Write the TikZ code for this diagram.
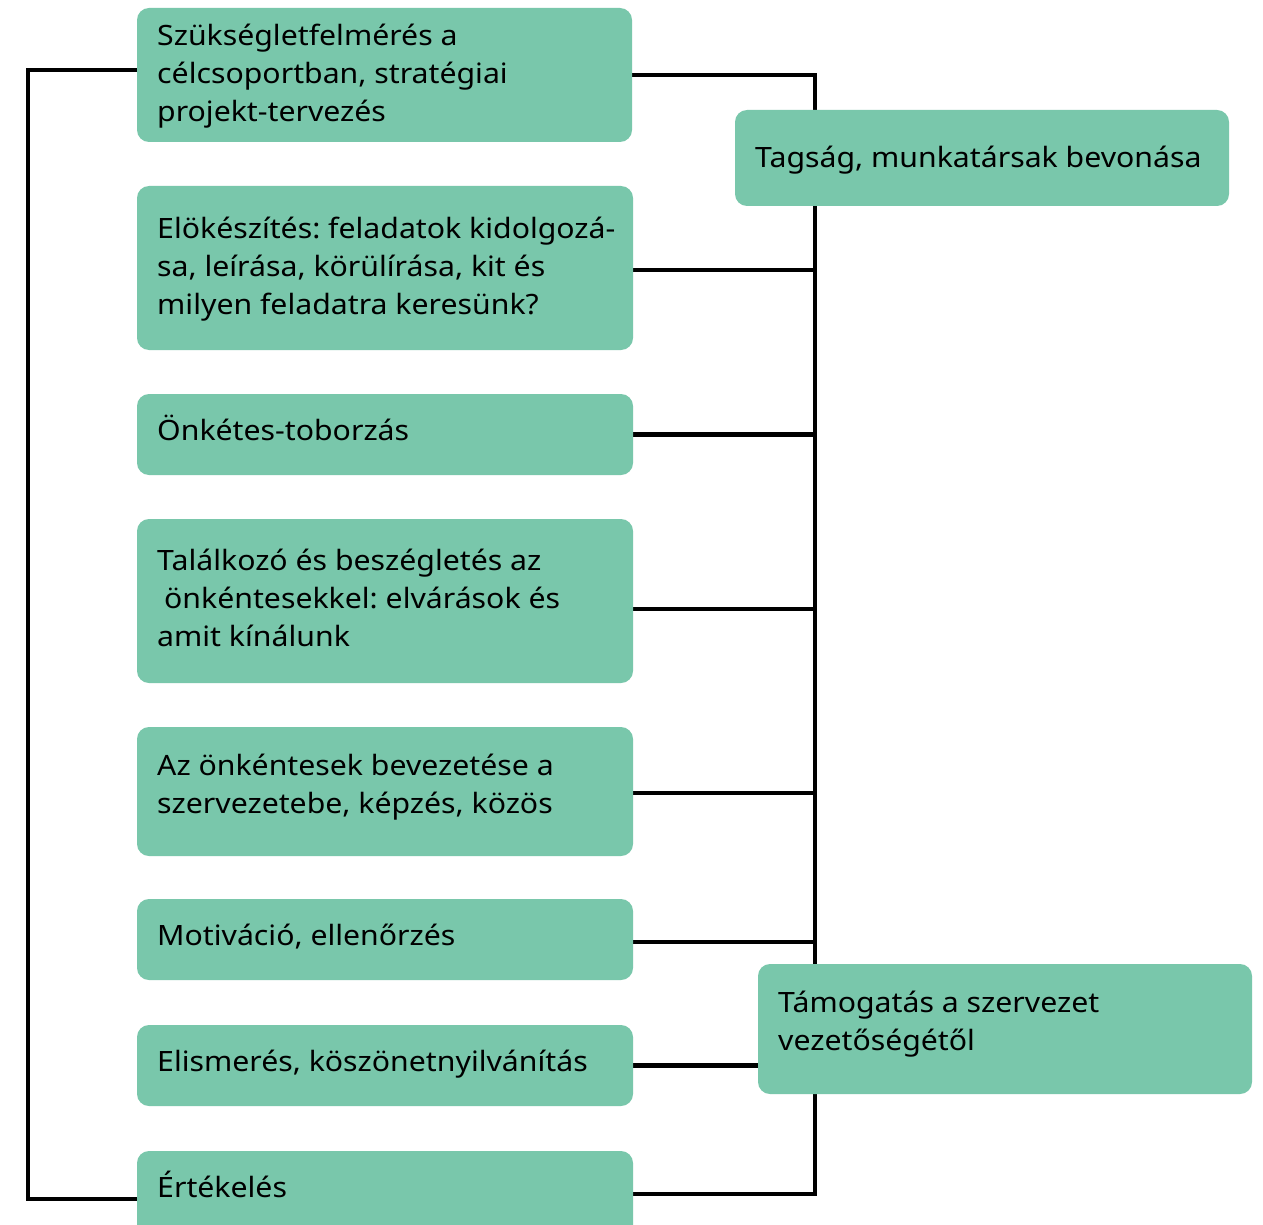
\documentclass[tikz,border=0pt]{standalone}
\usepackage{fontspec}
\setmainfont{Noto Sans}[FakeStretch=1.08]
\usetikzlibrary{backgrounds,calc}
\definecolor{boxgreen}{HTML}{79C7AB}
\frenchspacing
\begin{document}
\begin{tikzpicture}[x=1pt,y=-1pt,
  box/.style={fill=boxgreen, rounded corners=12pt, inner sep=0pt, outer sep=0pt, anchor=north west},
  txt/.style={anchor=north west, inner sep=0pt, align=left, font=\fontsize{28}{38}\selectfont\frenchspacing},
  conn/.style={line width=4.5pt, line cap=rect, line join=miter}]
\clip (0,0) rectangle (1263,1225);
% boxes
\node[box, minimum width=495pt, minimum height=134pt] (b1) at (137,8) {};
\node[box, minimum width=496pt, minimum height=164pt] (b2) at (137,186) {};
\node[box, minimum width=496pt, minimum height=81pt] (b3) at (137,394) {};
\node[box, minimum width=496pt, minimum height=164pt] (b4) at (137,519) {};
\node[box, minimum width=496pt, minimum height=129pt] (b5) at (137,727) {};
\node[box, minimum width=496pt, minimum height=81pt] (b6) at (137,899) {};
\node[box, minimum width=496pt, minimum height=81pt] (b7) at (137,1025) {};
\node[box, minimum width=496pt, minimum height=100pt] (b8) at (137,1151) {};
\node[box, minimum width=494pt, minimum height=96pt] (bA) at (735,110) {};
\node[box, minimum width=494pt, minimum height=130pt] (bB) at (758,964) {};
% texts
\node[txt] (t1) at (157,45-26.6) {\strut Szükségletfelmérés a\\célcsoportban, stratégiai\\projekt-tervezés};
\node[txt] (t2) at (157,238-26.6) {\strut Elökészítés: feladatok kidolgozá-\\sa, leírása, körülírása, kit és\\milyen feladatra keresünk?};
\node[txt] (t3) at (157,440-26.6) {\strut Önkétes-toborzás};
\node[txt] (t4) at (157,570-26.6) {\strut Találkozó és beszégletés az\\\hspace*{0.25em}önkéntesekkel: elvárások és\\amit kínálunk};
\node[txt] (t5) at (157,775-26.6) {\strut Az önkéntesek bevezetése a\\szervezetebe, képzés, közös};
\node[txt] (t6) at (157,945-26.6) {\strut Motiváció, ellenőrzés};
\node[txt] (t7) at (157,1071-26.6) {\strut Elismerés, köszönetnyilvánítás};
\node[txt] (t8) at (157,1197-26.6) {\strut Értékelés};
\node[txt] (tA) at (755,167-26.6) {\strut Tagság, munkatársak bevonása};
\node[txt] (tB) at (778,1012-26.6) {\strut Támogatás a szervezet\\vezetőségétől};
% connectors
\begin{pgfonlayer}{background}
\fill[white] (0,0) rectangle (1263,1225);
\coordinate (busTop) at (815,75);
\coordinate (busBot) at (815,1194);
\coordinate (leftTop) at (28,70);
\coordinate (leftBot) at (28,1199);
\draw[conn] ([yshift=5pt]b1.west) -- (leftTop) -- (leftBot) -- (leftBot -| b8.west);
\draw[conn] (b1.east) -- (busTop) -- (busBot) -- (busBot -| b8.east);
\draw[conn] ([yshift=-2pt]b2.east) -- ([yshift=-2pt]b2.east -| busTop);
\draw[conn] (b3.east) -- (b3.east -| busTop);
\draw[conn] ([yshift=-8pt]b4.east) -- ([yshift=-8pt]b4.east -| busTop);
\draw[conn] ([yshift=-1.5pt]b5.east) -- ([yshift=-1.5pt]b5.east -| busTop);
\draw[conn] ([yshift=-2.5pt]b6.east) -- ([yshift=-2.5pt]b6.east -| busTop);
\draw[conn] (b7.east) -- (b7.east -| bB.west);
\end{pgfonlayer}
\end{tikzpicture}
\end{document}
